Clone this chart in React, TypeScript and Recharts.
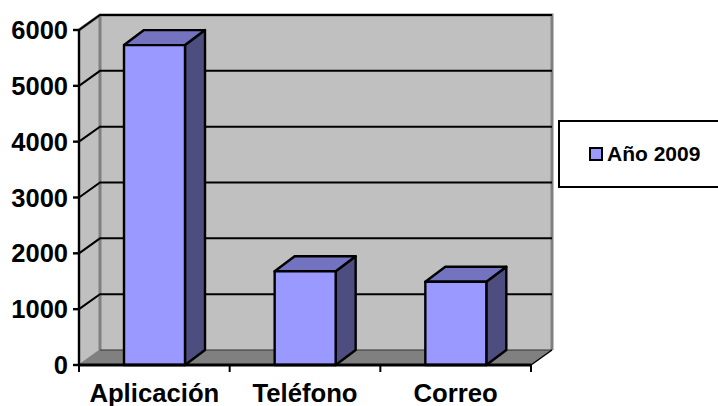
import React from "react";
import { BarChart, Bar, XAxis, YAxis, CartesianGrid, Legend } from "recharts";

const categories = ["Aplicación", "Teléfono", "Correo"];
const values = [5730, 1680, 1490];
const yTicks = [0, 1000, 2000, 3000, 4000, 5000, 6000];
const seriesName = "Año 2009";

const data = categories.map((name, i) => ({ name, value: values[i] }));

const FONT = "'Liberation Sans', Arial, sans-serif";
const WALL_DX = 21;
const WALL_DY = 15;
const BAR_DX = 20;
const BAR_DY = 15;
const GREY = "#808080";
const WALL = "#C0C0C0";

function Walls({ x, y, width, height }: any) {
  const r = x + width;
  const b = y + height;
  const dx = WALL_DX;
  const dy = WALL_DY;
  return (
    <g>
      <polygon points={`${x},${y} ${x + dx},${y - dy} ${x + dx},${b - dy} ${x},${b}`} fill={WALL} />
      <rect x={x + dx} y={y - dy} width={width} height={height} fill={WALL} />
      <polygon points={`${x},${b} ${x + dx},${b - dy} ${r + dx},${b - dy} ${r},${b}`} fill={GREY} />
      <polyline
        points={`${x},${y} ${x + dx},${y - dy} ${r + dx},${y - dy} ${r + dx},${b - dy}`}
        fill="none"
        stroke={GREY}
        strokeWidth={3}
      />
      <line x1={x + dx} y1={y - dy} x2={x + dx} y2={b - dy} stroke={GREY} strokeWidth={3} />
      <line x1={x + dx} y1={b - dy} x2={r + dx} y2={b - dy} stroke="#333" strokeWidth={1} />
      <line x1={x} y1={b} x2={x + dx} y2={b - dy} stroke={GREY} strokeWidth={1.5} />
      <line x1={r} y1={b} x2={r + dx} y2={b - dy} stroke="#000" strokeWidth={1.5} />
    </g>
  );
}

function gridLine(props: any) {
  const { x1, x2, y1, index, x, y, width, height } = props;
  if (index === 0) return <Walls key="walls" x={x} y={y} width={width} height={height} />;
  if (y1 > 360) return <g key={`g${index}`} />;
  return (
    <polyline
      key={`g${index}`}
      points={`${x1},${y1} ${x1 + WALL_DX},${y1 - WALL_DY} ${x2 + WALL_DX},${y1 - WALL_DY}`}
      fill="none"
      stroke="#000"
      strokeWidth={2}
    />
  );
}

function Box3D(props: any) {
  const { x, y, width, height } = props;
  const r = x + width;
  const b = y + height;
  const dx = BAR_DX;
  const dy = BAR_DY;
  const common = { stroke: "#000", strokeWidth: 2.4, strokeLinejoin: "round" as const };
  return (
    <g>
      <polygon points={`${r},${y} ${r + dx},${y - dy} ${r + dx},${b - dy} ${r},${b}`} fill="#4D4D80" {...common} />
      <polygon points={`${x},${y} ${x + dx},${y - dy} ${r + dx},${y - dy} ${r},${y}`} fill="#7373BF" {...common} />
      <rect x={x} y={y} width={width} height={height} fill="#9999FF" {...common} />
    </g>
  );
}

function XTick(props: any) {
  const { x, y, payload, visibleTicksCount, index } = props;
  const band = 452 / (visibleTicksCount || categories.length);
  const t = y - 8;
  return (
    <g>
      <line x1={x + band / 2} y1={t} x2={x + band / 2} y2={t + 7} stroke="#000" strokeWidth={2} />
      {index === 0 && <line x1={x - band / 2} y1={t} x2={x - band / 2} y2={t + 7} stroke="#000" strokeWidth={2} />}
      <text x={x} y={y + 29} textAnchor="middle" fontFamily={FONT} fontWeight={700} fontSize={25.7} fill="#000">
        {payload.value}
      </text>
    </g>
  );
}

function LegendBox({ payload }: any) {
  const item = payload && payload[0];
  return (
    <div
      style={{
        boxSizing: "border-box",
        width: 170,
        height: 68,
        border: "2.4px solid #000",
        background: "#fff",
        display: "flex",
        alignItems: "center",
        fontFamily: FONT,
        fontWeight: 700,
        fontSize: 21,
        color: "#000",
        paddingLeft: 29,
      }}
    >
      <span
        style={{
          display: "inline-block",
          boxSizing: "border-box",
          width: 14,
          height: 14,
          border: "2px solid #000",
          background: "#9999FF",
          marginRight: 4,
        }}
      />
      <span>{item ? item.value : seriesName}</span>
    </div>
  );
}

export default function App() {
  return (
    <div style={{ position: "absolute", left: 0, top: 0, width: 718, height: 406, overflow: "hidden", background: "#fff" }}>
      <BarChart width={718} height={406} data={data} margin={{ top: 30, right: 187, bottom: 0, left: 0 }} barSize={61}>
        <CartesianGrid vertical={false} horizontal={gridLine} />
        <XAxis
          dataKey="name"
          height={41}
          axisLine={{ stroke: "#000", strokeWidth: 3 }}
          tickLine={false}
          tick={<XTick />}
          interval={0}
        />
        <YAxis
          width={79}
          domain={[0, 6000]}
          ticks={yTicks}
          interval={0}
          axisLine={{ stroke: "#000", strokeWidth: 2.4 }}
          tickLine={{ stroke: "#000", strokeWidth: 2.4 }}
          tickSize={6}
          tickMargin={5}
          tick={{ fontFamily: FONT, fontWeight: 700, fontSize: 25.5, fill: "#000" }}
        />
        <Bar dataKey="value" name={seriesName} shape={<Box3D />} isAnimationActive={false} />
        <Legend
          layout="horizontal"
          verticalAlign="middle"
          align="center"
          content={<LegendBox />}
          wrapperStyle={{ position: "absolute", left: 558, top: 120, width: 170 }}
        />
      </BarChart>
    </div>
  );
}
